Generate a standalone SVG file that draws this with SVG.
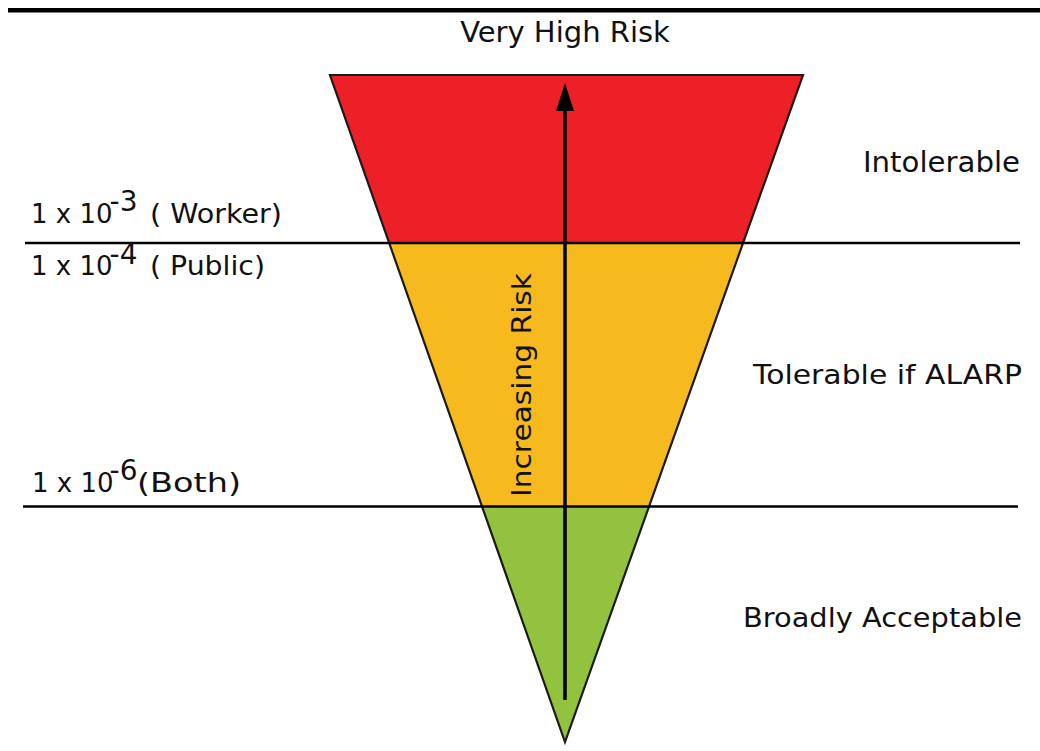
<svg xmlns="http://www.w3.org/2000/svg" width="1040" height="751" viewBox="0 0 1040 751">
  <style>
    .lbl { font-family: "DejaVu Sans", Verdana, sans-serif; fill: #111; }
    .sup { font-size: 28px; }
    .rule { stroke: #000; stroke-width: 2.5; fill: none; }
    .band { stroke: none; }
  </style>
  <rect width="1040" height="751" fill="#fff"/>

  <!-- heavy top border -->
  <rect x="8" y="8" width="1032" height="4.5" fill="#000"/>

  <!-- risk funnel bands -->
  <g id="band-intolerable">
    <polygon class="band" points="330,75 803,75 743.4,242.5 388.8,242.5" fill="#EE2027"/>
  </g>
  <g id="band-alarp">
    <polygon class="band" points="388.8,242.5 743.4,242.5 649.2,506 481.8,506" fill="#F6BA1E"/>
  </g>
  <g id="band-acceptable">
    <polygon class="band" points="481.8,506 649.2,506 565,742" fill="#93C23F"/>
  </g>
  <polygon points="330,75 803,75 565,742" fill="none" stroke="#1a1a1a" stroke-width="2.2" stroke-linejoin="miter"/>

  <!-- threshold lines and arrow -->
  <g id="connectors">
    <line class="rule" x1="25" y1="243" x2="1020" y2="243"/>
    <line class="rule" x1="23" y1="506.5" x2="1018" y2="506.5"/>
    <line x1="565" y1="700" x2="565" y2="108" stroke="#000" stroke-width="3.5"/>
    <polygon points="565,83 556,111 574,111" fill="#000"/>
  </g>

  <!-- titles -->
  <g id="title-top">
    <text class="lbl" x="565" y="42" font-size="29" text-anchor="middle">Very High Risk</text>
  </g>
  <g id="label-intolerable">
    <text class="lbl" x="863" y="172" font-size="28" textLength="157" lengthAdjust="spacingAndGlyphs">Intolerable</text>
  </g>
  <g id="label-alarp">
    <text class="lbl" x="753" y="384" font-size="27" textLength="269" lengthAdjust="spacingAndGlyphs">Tolerable if ALARP</text>
  </g>
  <g id="label-acceptable">
    <text class="lbl" x="743" y="627" font-size="27" textLength="279" lengthAdjust="spacingAndGlyphs">Broadly Acceptable</text>
  </g>
  <g id="label-increasing">
    <text class="lbl" transform="translate(531,497) rotate(-90)" x="0" y="0" font-size="26" textLength="224" lengthAdjust="spacingAndGlyphs">Increasing Risk</text>
  </g>

  <!-- threshold values: mantissa with raised exponent, then the group name -->
  <g id="threshold-worker">
    <text class="lbl" x="31" y="223" font-size="26">1 x 10<tspan class="sup" dx="-3" dy="-12">-3</tspan></text>
    <text class="lbl" x="150" y="223" font-size="26" textLength="132" lengthAdjust="spacingAndGlyphs">( Worker)</text>
  </g>
  <g id="threshold-public">
    <text class="lbl" x="31" y="275" font-size="26">1 x 10<tspan class="sup" dx="-3" dy="-11">-4</tspan></text>
    <text class="lbl" x="150" y="275" font-size="26" textLength="115" lengthAdjust="spacingAndGlyphs">( Public)</text>
  </g>
  <g id="threshold-both">
    <text class="lbl" x="32" y="492" font-size="26">1 x 10<tspan class="sup" dx="-4" dy="-12">-6</tspan></text>
    <text class="lbl" x="137" y="492" font-size="26" textLength="104" lengthAdjust="spacingAndGlyphs">(Both)</text>
  </g>
</svg>
